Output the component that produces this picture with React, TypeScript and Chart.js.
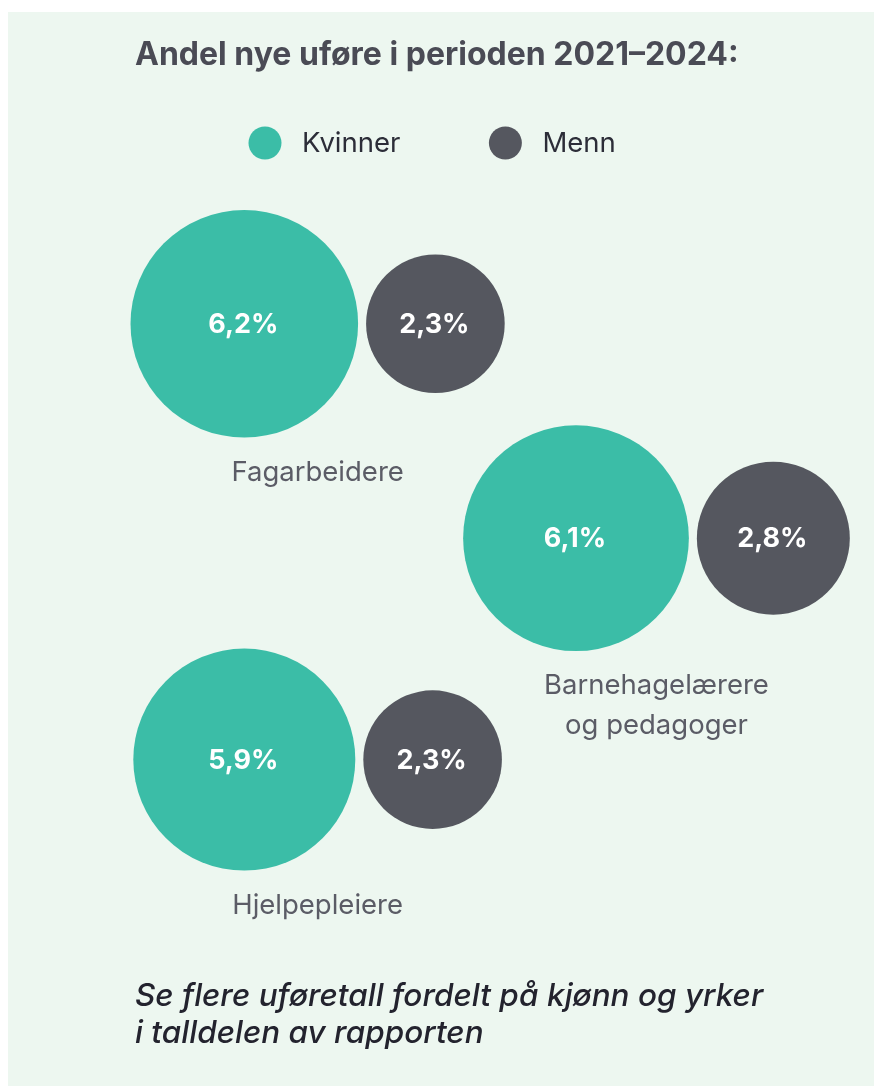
import React, { useEffect, useRef } from "react";
import { Chart, registerables } from "chart.js";

Chart.register(...registerables);

// ---- data ----
const TITLE = "Andel nye uføre i perioden 2021–2024:";
const SERIES = ["Kvinner", "Menn"];
const CATEGORIES: string[][] = [["Fagarbeidere"], ["Barnehagelærere", "og pedagoger"], ["Hjelpepleiere"]];
const WOMEN = [6.2, 6.1, 5.9];
const MEN = [2.3, 2.8, 2.3];
const FOOTER = ["Se flere uføretall fordelt på kjønn og yrker", "i talldelen av rapporten"];

// ---- layout / style ----
const W = 866;
const H = 1074;
const PAD_LEFT = 127;
const AREA_TOP = 180;
const AREA_BOTTOM = 940;
const GROUP_COL = [0, 1, 0];
const COL_X = [109.3, 441];
const ROW_Y = [131.5, 345.5, 566.5];
const R_SCALE = 45.7;
const GAP = 8;
const TEAL = "#3bbda7";
const DARK = "#55575f";
const BG = "#edf7f0";
const SANS = "Inter, Roboto, sans-serif";

const radius = (v: number) => R_SCALE * Math.sqrt(v);
const fmt = (v: number) => v.toFixed(1).replace(".", ",") + "%";

const labelPlugin = {
  id: "bubbleLabels",
  afterDatasetsDraw(chart: any) {
    const ctx = chart.ctx;
    ctx.save();
    ctx.textAlign = "center";
    ctx.textBaseline = "middle";
    chart.data.datasets.forEach((ds: any, di: number) => {
      const meta = chart.getDatasetMeta(di);
      meta.data.forEach((el: any, i: number) => {
        ctx.fillStyle = "#ffffff";
        ctx.font = `bold 27px ${SANS}`;
        ctx.fillText(fmt(ds.data[i].v), el.x - 1, el.y + 1);
      });
    });
    const wMeta = chart.getDatasetMeta(0);
    const mMeta = chart.getDatasetMeta(1);
    wMeta.data.forEach((wEl: any, i: number) => {
      const mEl = mMeta.data[i];
      const rw = chart.data.datasets[0].data[i].r;
      const rm = chart.data.datasets[1].data[i].r;
      const cx = ((wEl.x - rw) + (mEl.x + rm)) / 2;
      const y0 = wEl.y + rw + 35;
      ctx.fillStyle = "#5b5c66";
      ctx.font = `27.5px ${SANS}`;
      CATEGORIES[i].forEach((line, li) => ctx.fillText(line, cx, y0 + li * 40));
    });
    ctx.restore();
  },
  afterDraw(chart: any) {
    const ctx = chart.ctx;
    ctx.save();
    ctx.textBaseline = "middle";
    ctx.textAlign = "left";
    ctx.font = `27.5px ${SANS}`;
    let x = 257;
    const y = 131;
    chart.data.datasets.forEach((ds: any) => {
      ctx.fillStyle = ds.backgroundColor;
      ctx.beginPath();
      ctx.arc(x, y, 16.5, 0, Math.PI * 2);
      ctx.fill();
      ctx.fillStyle = "#2c2d38";
      const tx = x + 37;
      ctx.fillText(ds.label, tx, y + 1);
      x = tx + ctx.measureText(ds.label).width + 105;
    });
    ctx.restore();
  },
};

export default function App() {
  const ref = useRef<HTMLCanvasElement>(null);
  useEffect(() => {
    if (!ref.current) return;
    const women = WOMEN.map((v, i) => ({
      x: COL_X[GROUP_COL[i]],
      y: ROW_Y[i],
      r: radius(v),
      v,
    }));
    const men = MEN.map((v, i) => ({
      x: women[i].x + women[i].r + GAP + radius(v),
      y: ROW_Y[i],
      r: radius(v),
      v,
    }));
    const chart = new Chart(ref.current, {
      type: "bubble",
      data: {
        datasets: [
          { label: SERIES[0], data: women, backgroundColor: TEAL, borderWidth: 0, clip: false } as any,
          { label: SERIES[1], data: men, backgroundColor: DARK, borderWidth: 0, clip: false } as any,
        ],
      },
      options: {
        responsive: false,
        animation: false,
        events: [],
        layout: { autoPadding: false, padding: { left: PAD_LEFT, right: 0, top: 0, bottom: 0 } },
        scales: {
          x: { type: "linear", min: 0, max: W - PAD_LEFT, display: false },
          y: { type: "linear", min: 0, max: AREA_BOTTOM - AREA_TOP, reverse: true, display: false },
        },
        plugins: {
          legend: { display: false },
          tooltip: { enabled: false },
          title: {
            display: true,
            text: TITLE,
            align: "start",
            color: "#4a4b55",
            font: { family: SANS, size: 32, weight: "bold", lineHeight: 1.2 },
            padding: { top: 24.3, bottom: AREA_TOP - 24.3 - 38.4 },
          },
          subtitle: {
            display: true,
            position: "bottom",
            text: FOOTER,
            align: "start",
            color: "#23232e",
            font: { family: SANS, size: 31.5, weight: 500, style: "italic", lineHeight: "37px" },
            padding: { top: 24.5, bottom: 34 },
          },
        },
      },
      plugins: [labelPlugin],
    });
    return () => chart.destroy();
  }, []);
  return (
    <div style={{ position: "absolute", left: 0, top: 0, width: 874, height: 1086, background: "#ffffff" }}>
      <div style={{ position: "absolute", left: 8, top: 12, width: W, height: H, background: BG }}>
        <canvas ref={ref} width={W} height={H} style={{ display: "block", width: W, height: H }} />
      </div>
    </div>
  );
}
